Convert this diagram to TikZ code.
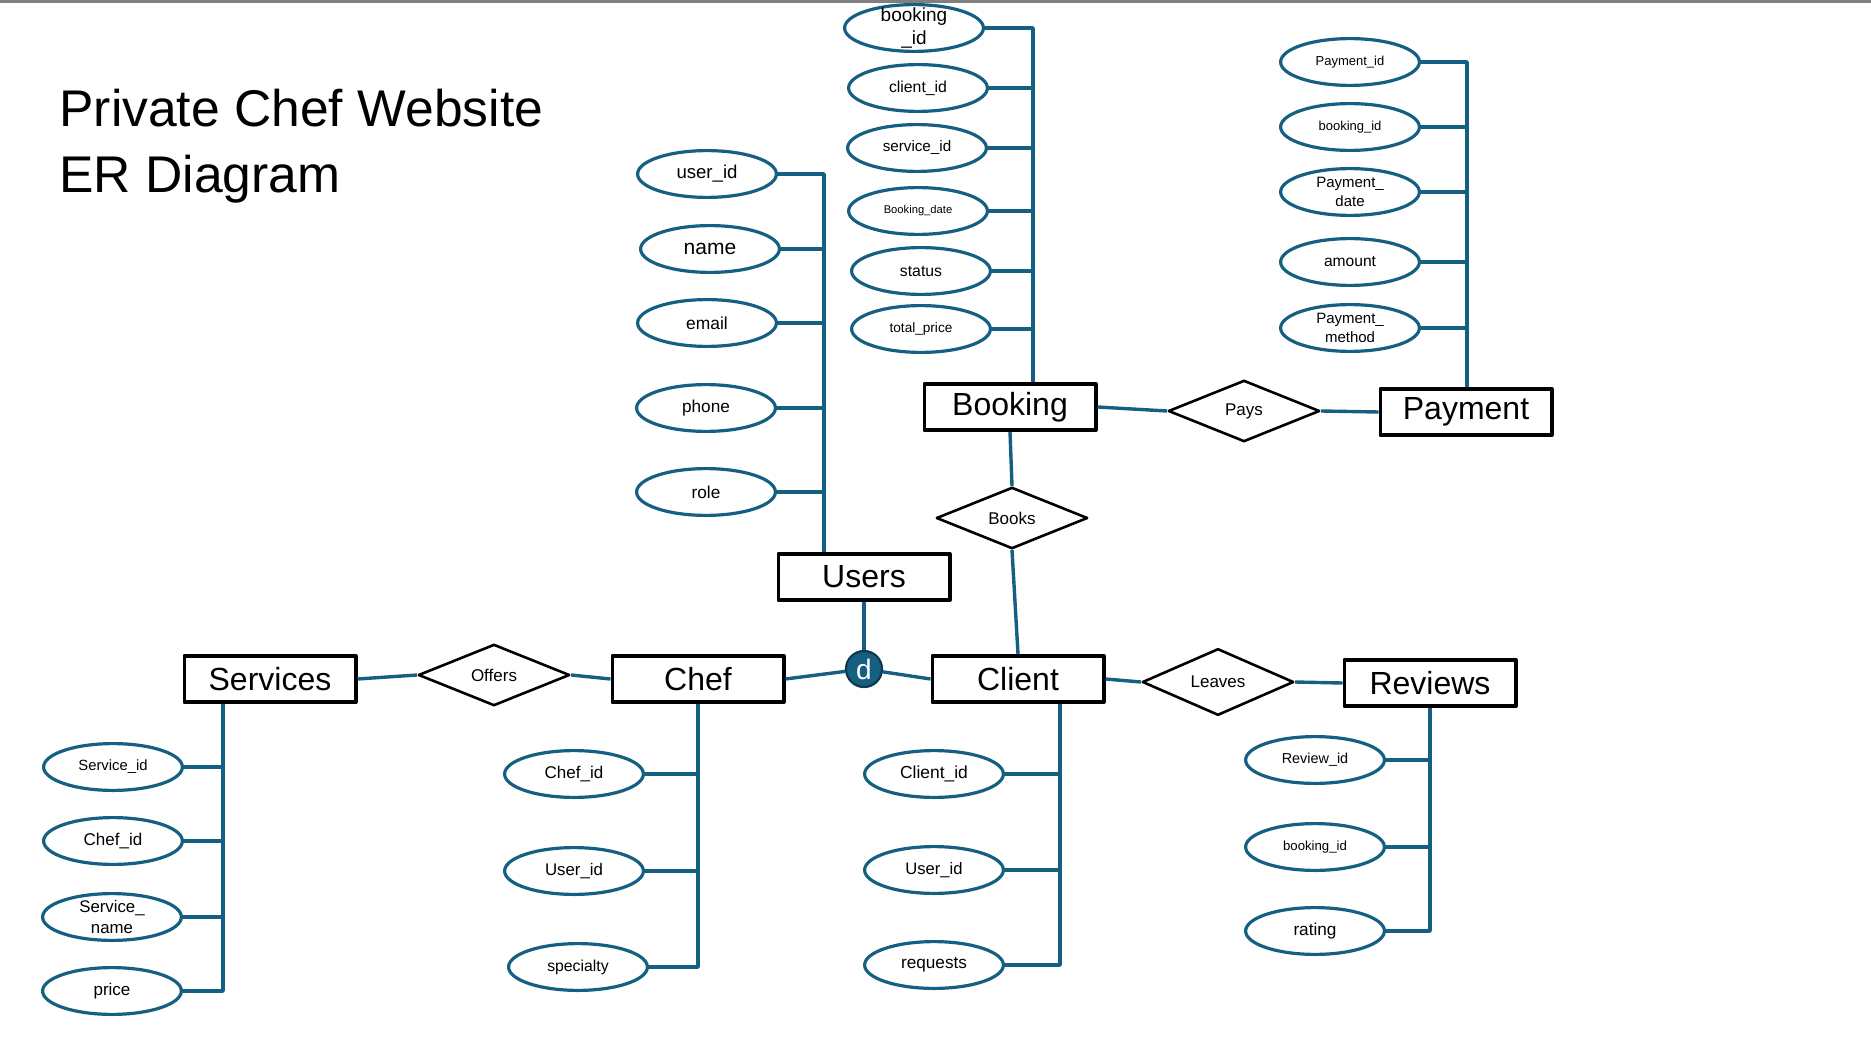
\documentclass[tikz,border=0pt]{standalone}
\usepackage{fontspec}
\setmainfont{Liberation Sans}
\usetikzlibrary{shapes.geometric}

\definecolor{erblue}{HTML}{156082}
\newcommand{\fsz}[1]{\fontsize{#1pt}{1.22\dimexpr#1pt\relax}\selectfont}

\tikzset{
  entity/.style={draw, line width=1.8pt, minimum width=85.7pt, minimum height=23.2pt, inner sep=0pt, font=\fsz{16}},
  relation/.style={diamond, draw, line width=1.3pt, minimum width=75.7pt, minimum height=30.7pt, inner sep=0pt, font=\fsz{8.5}},
  attr/.style 2 args={ellipse, draw=erblue, line width=1.6pt, minimum width=69.4pt, minimum height=23.4pt, inner sep=0pt,
    label={[font=\fsz{#1}, align=center, inner sep=0pt]center:#2}},
  link/.style={draw=erblue, line width=1.7pt},
}

\begin{document}
\begin{tikzpicture}[x=0.5pt, y=-0.5pt, line join=round]
\useasboundingbox (0,0) rectangle (1871,1053);
\draw[gray, line width=1.3pt] (0,1.3) -- (1871,1.3);

% title
\node[anchor=base west, align=left, inner sep=0pt, font=\fontsize{25.8pt}{33pt}\selectfont] (title) at (59,193) {Private Chef Website\\ER Diagram};

% entities
\node[entity] (users) at (864,577) {Users};
\node[entity] (booking) at (1010,407) {Booking};
\node[entity] (payment) at (1466,412) {Payment};
\node[entity] (services) at (270,679) {Services};
\node[entity] (chef) at (698,679) {Chef};
\node[entity] (client) at (1018,679) {Client};
\node[entity] (reviews) at (1430,683) {Reviews};

% relationships
\node[relation] (pays) at (1244,411) {Pays};
\node[relation] (books) at (1012,518) {Books};
\node[relation] (offers) at (494,675) {Offers};
\node[relation] (leaves) at (1218,682) {Leaves};
\node[circle, fill=erblue, draw=erblue!60!black, line width=1.1pt, minimum size=18pt, inner sep=0pt, text=white, font=\fsz{14}] (disj) at (864,669) {d};

% users attributes
\node[attr={9.3}{user\_id}] (u_id) at (707,174) {};
\node[attr={10.5}{name}] (u_name) at (710,249) {};
\node[attr={8.7}{email}] (u_email) at (707,323) {};
\node[attr={8.6}{phone}] (u_phone) at (706,408) {};
\node[attr={8.6}{role}] (u_role) at (706,492) {};
\coordinate (uspine) at (824,0);
\draw[link] (u_id.east) -| (users.north -| uspine);
\draw[link] (u_name.east) -- (u_name.east -| uspine);
\draw[link] (u_email.east) -- (u_email.east -| uspine);
\draw[link] (u_phone.east) -- (u_phone.east -| uspine);
\draw[link] (u_role.east) -- (u_role.east -| uspine);

% booking attributes
\node[attr={9.5}{booking\\\_id}] (b_id) at (914,28) {};
\node[attr={7.9}{client\_id}] (b_client) at (918,88) {};
\node[attr={7.6}{service\_id}] (b_service) at (917,148) {};
\node[attr={5.6}{Booking\_date}] (b_date) at (918,211) {};
\node[attr={7.9}{status}] (b_status) at (921,271) {};
\node[attr={6.8}{total\_price}] (b_price) at (921,329) {};
\coordinate (bspine) at (1033,0);
\draw[link] (b_id.east) -| (booking.north -| bspine);
\draw[link] (b_client.east) -- (b_client.east -| bspine);
\draw[link] (b_service.east) -- (b_service.east -| bspine);
\draw[link] (b_date.east) -- (b_date.east -| bspine);
\draw[link] (b_status.east) -- (b_status.east -| bspine);
\draw[link] (b_price.east) -- (b_price.east -| bspine);

% payment attributes
\node[attr={6.5}{Payment\_id}] (p_id) at (1350,62) {};
\node[attr={6.5}{booking\_id}] (p_booking) at (1350,127) {};
\node[attr={7.5}{Payment\_\\date}] (p_date) at (1350,192) {};
\node[attr={7.8}{amount}] (p_amount) at (1350,262) {};
\node[attr={7.5}{Payment\_\\method}] (p_method) at (1350,328) {};
\coordinate (pspine) at (1467,0);
\draw[link] (p_id.east) -| (payment.north -| pspine);
\draw[link] (p_booking.east) -- (p_booking.east -| pspine);
\draw[link] (p_date.east) -- (p_date.east -| pspine);
\draw[link] (p_amount.east) -- (p_amount.east -| pspine);
\draw[link] (p_method.east) -- (p_method.east -| pspine);

% services attributes
\node[attr={7.4}{Service\_id}] (s_id) at (113,767) {};
\node[attr={8.5}{Chef\_id}] (s_chef) at (113,841) {};
\node[attr={8.4}{Service\_\\name}] (s_name) at (112,917) {};
\node[attr={8.5}{price}] (s_price) at (112,991) {};
\coordinate (sspine) at (223,0);
\draw[link] (services.south -| sspine) |- (s_price.east);
\draw[link] (s_id.east) -- (s_id.east -| sspine);
\draw[link] (s_chef.east) -- (s_chef.east -| sspine);
\draw[link] (s_name.east) -- (s_name.east -| sspine);

% chef attributes
\node[attr={8.5}{Chef\_id}] (ch_id) at (574,774) {};
\node[attr={8.4}{User\_id}] (ch_user) at (574,871) {};
\node[attr={7.9}{specialty}] (ch_spec) at (578,967) {};
\draw[link] (chef.south) |- (ch_spec.east);
\draw[link] (ch_id.east) -- (ch_id.east -| chef.south);
\draw[link] (ch_user.east) -- (ch_user.east -| chef.south);

% client attributes
\node[attr={8.7}{Client\_id}] (cl_id) at (934,774) {};
\node[attr={8.3}{User\_id}] (cl_user) at (934,870) {};
\node[attr={8.6}{requests}] (cl_req) at (934,965) {};
\coordinate (cspine) at (1060,0);
\draw[link] (client.south -| cspine) |- (cl_req.east);
\draw[link] (cl_id.east) -- (cl_id.east -| cspine);
\draw[link] (cl_user.east) -- (cl_user.east -| cspine);

% reviews attributes
\node[attr={7.2}{Review\_id}] (r_id) at (1315,760) {};
\node[attr={6.6}{booking\_id}] (r_booking) at (1315,847) {};
\node[attr={8.6}{rating}] (r_rating) at (1315,931) {};
\draw[link] (reviews.south) |- (r_rating.east);
\draw[link] (r_id.east) -- (r_id.east -| reviews.south);
\draw[link] (r_booking.east) -- (r_booking.east -| reviews.south);

% relationship lines
\draw[link] (booking.east) -- (pays.west);
\draw[link] (pays.east) -- (payment.west);
\draw[link] (booking.south) -- (books.north);
\draw[link] (books.south) -- (client.north);
\draw[link] (users.south) -- (disj.north);
\draw[link] (chef.east) -- (disj);
\draw[link] (disj) -- (client.west);
\draw[link] (services.east) -- (offers.west);
\draw[link] (offers.east) -- (chef.west);
\draw[link] (client.east) -- (leaves.west);
\draw[link] (leaves.east) -- (reviews.west);
\end{tikzpicture}
\end{document}
